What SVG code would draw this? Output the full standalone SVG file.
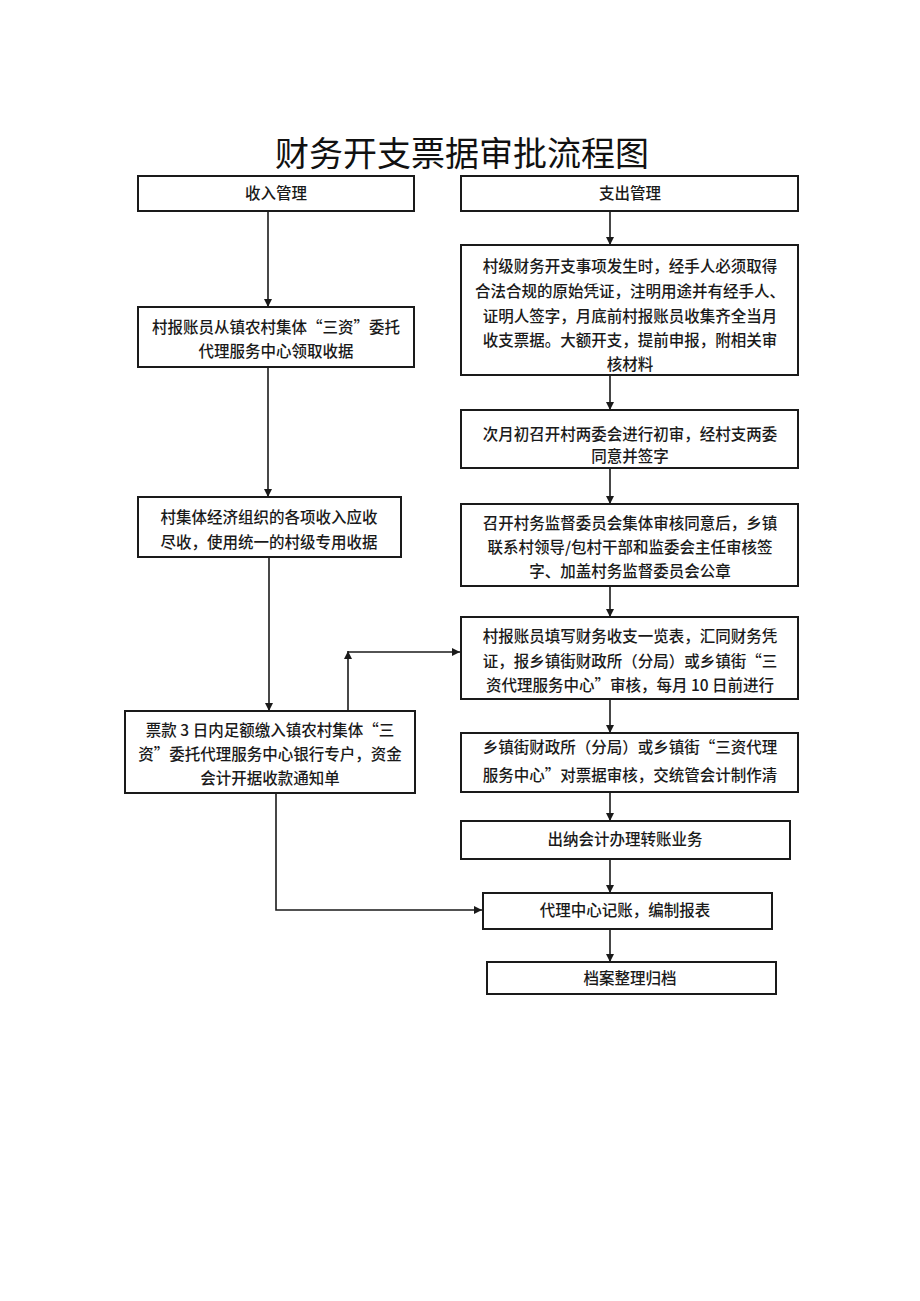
<svg xmlns="http://www.w3.org/2000/svg" width="920" height="1301" viewBox="0 0 920 1301">
<style>
.box{fill:#fff;stroke:#1a1a1a;stroke-width:2}
.t{font-family:"Noto Sans CJK SC","Noto Sans",sans-serif;font-size:15.5px;fill:#1a1a1a;text-anchor:middle;font-weight:500}
.title{font-family:"Noto Sans CJK SC","Noto Sans",sans-serif;font-size:34px;fill:#111;text-anchor:middle}
.ln{fill:none;stroke:#1a1a1a;stroke-width:1.6}
</style>
<defs>
<marker id="ah" viewBox="0 0 10 10" refX="10" refY="5" markerWidth="8" markerHeight="8" markerUnits="userSpaceOnUse" orient="auto">
<path d="M0,0 L10,5 L0,10 Z" fill="#1a1a1a"/>
</marker>
</defs>
<rect width="920" height="1301" fill="#fff"/>
<text class="title" x="462" y="166">财务开支票据审批流程图</text>

<g id="connectors">
<line class="ln" x1="268" y1="211" x2="268" y2="307" marker-end="url(#ah)"/>
<line class="ln" x1="268" y1="367" x2="268" y2="497" marker-end="url(#ah)"/>
<line class="ln" x1="269" y1="557" x2="269" y2="711" marker-end="url(#ah)"/>
<line class="ln" x1="348" y1="711" x2="348" y2="651" marker-end="url(#ah)"/>
<line class="ln" x1="348" y1="652" x2="460" y2="652" marker-end="url(#ah)"/>
<polyline class="ln" points="276,793 276,910 482,910" marker-end="url(#ah)"/>
<line class="ln" x1="610" y1="211" x2="610" y2="245" marker-end="url(#ah)"/>
<line class="ln" x1="610" y1="375" x2="610" y2="410" marker-end="url(#ah)"/>
<line class="ln" x1="610" y1="468" x2="610" y2="504" marker-end="url(#ah)"/>
<line class="ln" x1="610" y1="586" x2="610" y2="617" marker-end="url(#ah)"/>
<line class="ln" x1="610" y1="699" x2="610" y2="733" marker-end="url(#ah)"/>
<line class="ln" x1="610" y1="792" x2="610" y2="821" marker-end="url(#ah)"/>
<line class="ln" x1="610" y1="859" x2="610" y2="893" marker-end="url(#ah)"/>
<line class="ln" x1="610" y1="929" x2="610" y2="962" marker-end="url(#ah)"/>
</g>

<g id="n-income">
<rect class="box" x="138" y="176" width="276" height="35"/>
<text class="t" x="276" y="199">收入管理</text>
</g>
<g id="n-expense">
<rect class="box" x="461" y="176" width="337" height="35"/>
<text class="t" x="630" y="199">支出管理</text>
</g>
<g id="n-l2">
<rect class="box" x="138" y="307" width="276" height="60"/>
<text class="t" x="276" y="333">村报账员从镇农村集体“三资”委托</text>
<text class="t" x="276" y="357">代理服务中心领取收据</text>
</g>
<g id="n-l3">
<rect class="box" x="138" y="497" width="263" height="60"/>
<text class="t" x="269" y="523">村集体经济组织的各项收入应收</text>
<text class="t" x="269" y="548">尽收，使用统一的村级专用收据</text>
</g>
<g id="n-l4">
<rect class="box" x="125" y="711" width="290" height="82"/>
<text class="t" x="270" y="736">票款 3 日内足额缴入镇农村集体“三</text>
<text class="t" x="270" y="760">资”委托代理服务中心银行专户，资金</text>
<text class="t" x="270" y="784">会计开据收款通知单</text>
</g>
<g id="n-r1">
<rect class="box" x="461" y="245" width="337" height="130"/>
<text class="t" x="630" y="272">村级财务开支事项发生时，经手人必须取得</text>
<text class="t" x="630" y="297">合法合规的原始凭证，注明用途并有经手人、</text>
<text class="t" x="630" y="322">证明人签字，月底前村报账员收集齐全当月</text>
<text class="t" x="630" y="346">收支票据。大额开支，提前申报，附相关审</text>
<text class="t" x="630" y="370">核材料</text>
</g>
<g id="n-r2">
<rect class="box" x="461" y="410" width="337" height="58"/>
<text class="t" x="630" y="440">次月初召开村两委会进行初审，经村支两委</text>
<text class="t" x="630" y="462">同意并签字</text>
</g>
<g id="n-r3">
<rect class="box" x="461" y="504" width="337" height="82"/>
<text class="t" x="630" y="529">召开村务监督委员会集体审核同意后，乡镇</text>
<text class="t" x="630" y="553">联系村领导/包村干部和监委会主任审核签</text>
<text class="t" x="630" y="577">字、加盖村务监督委员会公章</text>
</g>
<g id="n-r4">
<rect class="box" x="461" y="617" width="337" height="82"/>
<text class="t" x="630" y="642">村报账员填写财务收支一览表，汇同财务凭</text>
<text class="t" x="630" y="667">证，报乡镇街财政所（分局）或乡镇街“三</text>
<text class="t" x="630" y="691">资代理服务中心”审核，每月 10 日前进行</text>
</g>
<g id="n-r5">
<rect class="box" x="461" y="733" width="337" height="59"/>
<text class="t" x="630" y="753">乡镇街财政所（分局）或乡镇街“三资代理</text>
<text class="t" x="630" y="781">服务中心”对票据审核，交统管会计制作清</text>
</g>
<g id="n-r6">
<rect class="box" x="461" y="821" width="329" height="38"/>
<text class="t" x="625" y="845">出纳会计办理转账业务</text>
</g>
<g id="n-r7">
<rect class="box" x="483" y="893" width="289" height="36"/>
<text class="t" x="625" y="916">代理中心记账，编制报表</text>
</g>
<g id="n-r8">
<rect class="box" x="487" y="962" width="289" height="32"/>
<text class="t" x="630" y="984">档案整理归档</text>
</g>
</svg>
